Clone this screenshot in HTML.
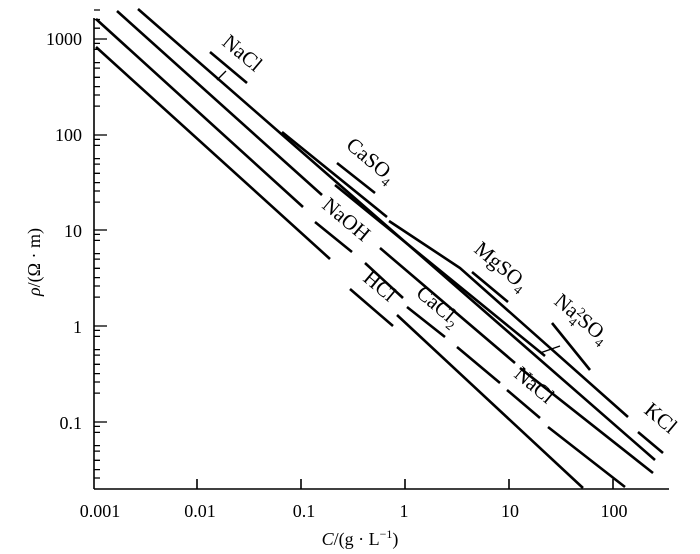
<!DOCTYPE html>
<html><head><meta charset="utf-8"><style>
html,body{margin:0;padding:0;background:#fff;}
svg{display:block;}
text{font-family:"Liberation Serif",serif;fill:#000;}
</style></head><body>
<svg width="700" height="554" viewBox="0 0 700 554" xmlns="http://www.w3.org/2000/svg">
<g stroke="#000" stroke-width="1.6" fill="none">
<line x1="94" y1="18" x2="94" y2="489"/>
<line x1="94" y1="489" x2="669" y2="489"/>
<line x1="197" y1="489" x2="197" y2="479"/>
<line x1="301" y1="489" x2="301" y2="479"/>
<line x1="405" y1="489" x2="405" y2="479"/>
<line x1="509" y1="489" x2="509" y2="479"/>
<line x1="613" y1="489" x2="613" y2="479"/>
</g>
<g stroke="#000" stroke-width="2.6" stroke-linecap="butt" fill="none">
<line x1="96" y1="47" x2="330" y2="259"/>
<line x1="350" y1="289" x2="393" y2="326"/>
<line x1="397" y1="315" x2="583" y2="488"/>
<line x1="96" y1="19" x2="303" y2="207"/>
<line x1="315" y1="222" x2="352" y2="252"/>
<line x1="365" y1="263" x2="403" y2="298"/>
<line x1="407" y1="307" x2="445" y2="337"/>
<line x1="457" y1="347" x2="500" y2="383"/>
<line x1="507" y1="390" x2="540" y2="418"/>
<line x1="548" y1="427" x2="625" y2="487"/>
<line x1="117" y1="11" x2="322" y2="195"/>
<line x1="380" y1="248" x2="515" y2="363"/>
<line x1="520" y1="368" x2="653" y2="473"/>
<line x1="138" y1="9" x2="655" y2="460"/>
<line x1="335" y1="185" x2="545" y2="356"/>
<line x1="282" y1="132" x2="387" y2="217"/>
<polyline points="389,221 460,268 628,417"/>
<line x1="210" y1="52" x2="247" y2="83"/>
<line x1="337" y1="163" x2="375" y2="193"/>
<line x1="472" y1="272" x2="508" y2="302"/>
<line x1="552" y1="323" x2="590" y2="370"/>
<line x1="638" y1="432" x2="663" y2="453"/>
</g>
<g stroke="#000" stroke-width="1.3">
<line x1="217" y1="80" x2="226" y2="71"/>
<line x1="540" y1="353" x2="560" y2="346"/>
</g>
<g font-size="18">
<text x="82" y="45" text-anchor="end">1000</text>
<text x="82" y="141" text-anchor="end">100</text>
<text x="82" y="237" text-anchor="end">10</text>
<text x="82" y="333" text-anchor="end">1</text>
<text x="82" y="429" text-anchor="end">0.1</text>
<text x="100" y="517" text-anchor="middle">0.001</text>
<text x="200" y="517" text-anchor="middle">0.01</text>
<text x="304" y="517" text-anchor="middle">0.1</text>
<text x="404" y="517" text-anchor="middle">1</text>
<text x="510" y="517" text-anchor="middle">10</text>
<text x="614" y="517" text-anchor="middle">100</text>
<text x="360" y="545" text-anchor="middle"><tspan font-style="italic">C</tspan>/(g · L<tspan font-size="12" dy="-7">−1</tspan><tspan dy="7">)</tspan></text>
<text transform="translate(40,262) rotate(-90)" text-anchor="middle"><tspan font-style="italic">ρ</tspan>/(Ω · m)</text>
</g>
<g font-size="21">
<text transform="translate(221,44) rotate(40)">NaCl</text>
<text transform="translate(345,147) rotate(40)">CaSO<tspan font-size="13" dy="5">4</tspan></text>
<text transform="translate(321,207) rotate(40)">NaOH</text>
<text transform="translate(473,251) rotate(40)">MgSO<tspan font-size="13" dy="5">4</tspan></text>
<text transform="translate(553,303) rotate(40)">Na<tspan font-size="13" dy="-7">2</tspan><tspan font-size="13" dx="-7" dy="13">4</tspan><tspan dy="-6">SO</tspan><tspan font-size="13" dy="5">4</tspan></text>
<text transform="translate(643,412) rotate(40)">KCl</text>
<text transform="translate(362,280) rotate(40)">HCl</text>
<text transform="translate(415,295) rotate(40)">CaCl<tspan font-size="13" dy="5">2</tspan></text>
<text transform="translate(513,376) rotate(40)">NaCl</text>
</g>
<g stroke="#000" stroke-width="1.3">
<line x1="94" y1="39" x2="107" y2="39"/>
<line x1="94" y1="135" x2="107" y2="135"/>
<line x1="94" y1="230" x2="107" y2="230"/>
<line x1="94" y1="326" x2="107" y2="326"/>
<line x1="94" y1="422" x2="107" y2="422"/>
<path d="M94 10h6 M94 19.5h6 M94 28.2h6
M94 106.1h6 M94 95h6 M94 86.6h6 M94 77.3h6 M94 68.1h6 M94 62.6h6 M94 49.4h6 M94 43.4h6
M94 202.1h6 M94 191h6 M94 182.6h6 M94 173.3h6 M94 164.1h6 M94 158.6h6 M94 145.4h6 M94 139.4h6
M94 297.1h6 M94 286h6 M94 277.6h6 M94 268.3h6 M94 259.1h6 M94 253.6h6 M94 240.4h6 M94 234.4h6
M94 393.1h6 M94 382h6 M94 373.6h6 M94 364.3h6 M94 355.1h6 M94 349.6h6 M94 336.4h6 M94 330.4h6
M94 478h6 M94 469.6h6 M94 460.3h6 M94 451.1h6 M94 445.6h6 M94 432.4h6 M94 426.4h6"/>
</g>
</svg>
</body></html>
